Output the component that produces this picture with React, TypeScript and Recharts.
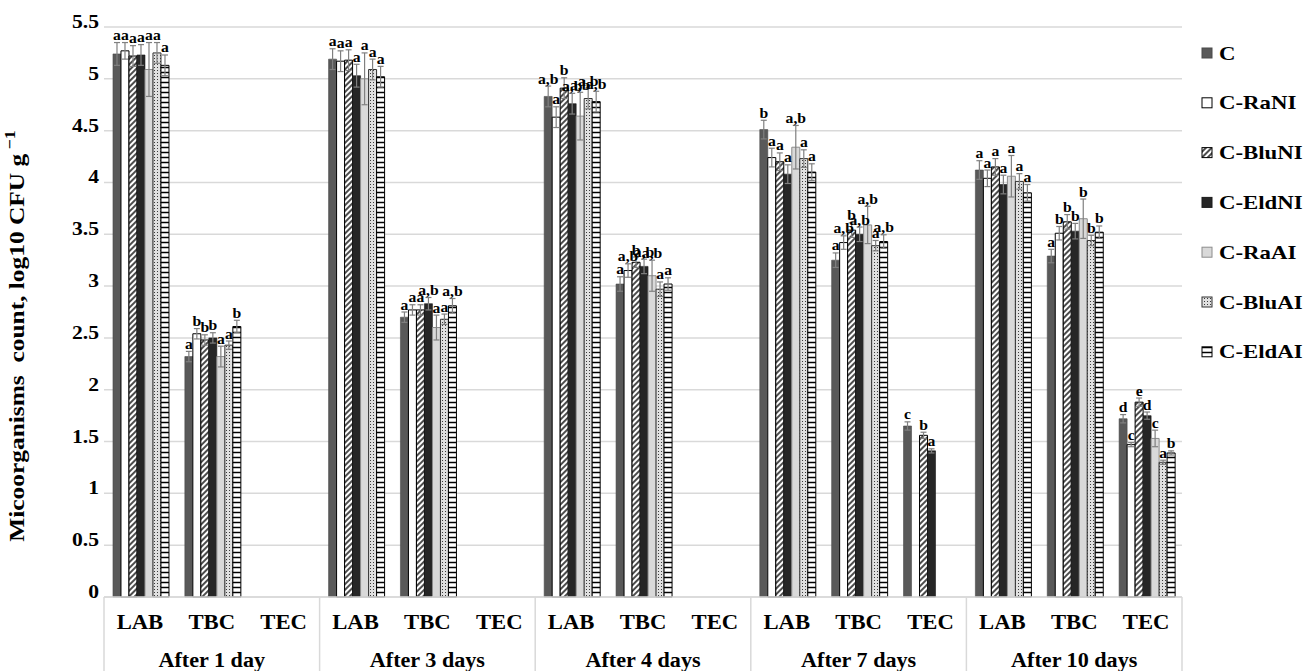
import React from 'react';
import { BarChart, Bar, XAxis, YAxis, CartesianGrid, ErrorBar, LabelList } from 'recharts';

const groupLabels = ['After 1 day', 'After 3 days', 'After 4 days', 'After 7 days', 'After 10 days'];
const subLabels = ['LAB', 'TBC', 'TEC'];
const yTicks = [0, 0.5, 1, 1.5, 2, 2.5, 3, 3.5, 4, 4.5, 5, 5.5];
const seriesNames = ['C', 'C-RaNI', 'C-BluNI', 'C-EldNI', 'C-RaAI', 'C-BluAI', 'C-EldAI'];

// order of the 15 categories: [1d LAB, 1d TBC, 1d TEC, 3d LAB, 3d TBC, 3d TEC, ...]
const valC = [5.24, 2.32, null, 5.19, 2.70, null, 4.83, 3.02, null, 4.51, 3.25, 1.65, 4.12, 3.29, 1.72];
const valRaNI = [5.27, 2.54, null, 5.17, 2.77, null, 4.63, 3.15, null, 4.24, 3.42, null, 4.04, 3.51, 1.47];
const valBluNI = [5.22, 2.48, null, 5.18, 2.77, null, 4.91, 3.23, null, 4.20, 3.54, 1.56, 4.15, 3.62, 1.88];
const valEldNI = [5.23, 2.50, null, 5.03, 2.83, null, 4.76, 3.19, null, 4.08, 3.50, 1.41, 3.98, 3.53, 1.75];
const valRaAI = [5.09, 2.32, null, 5.00, 2.60, null, 4.64, 3.10, null, 4.34, 3.59, null, 4.06, 3.65, 1.53];
const valBluAI = [5.25, 2.43, null, 5.09, 2.68, null, 4.81, 2.97, null, 4.23, 3.39, null, 4.01, 3.44, 1.30];
const valEldAI = [5.13, 2.61, null, 5.02, 2.81, null, 4.78, 3.02, null, 4.10, 3.43, null, 3.90, 3.52, 1.39];

const errC = [0.11, 0.05, null, 0.10, 0.05, null, 0.10, 0.07, null, 0.09, 0.07, 0.04, 0.09, 0.065, 0.04];
const errRaNI = [0.08, 0.05, null, 0.10, 0.05, null, 0.10, 0.065, null, 0.09, 0.065, null, 0.08, 0.065, 0.02];
const errBluNI = [0.10, 0.05, null, 0.10, 0.05, null, 0.10, 0.05, null, 0.085, 0.07, 0.03, 0.08, 0.07, 0.04];
const errEldNI = [0.10, 0.05, null, 0.11, 0.06, null, 0.10, 0.07, null, 0.09, 0.07, 0.02, 0.09, 0.075, 0.035];
const errRaAI = [0.26, 0.10, null, 0.25, 0.12, null, 0.23, 0.15, null, 0.21, 0.18, null, 0.20, 0.19, 0.08];
const errBluAI = [0.10, 0.04, null, 0.10, 0.05, null, 0.10, 0.07, null, 0.085, 0.05, null, 0.075, 0.05, 0.02];
const errEldAI = [0.10, 0.06, null, 0.10, 0.07, null, 0.10, 0.06, null, 0.08, 0.065, null, 0.08, 0.06, 0.02];

const letC = ['a', 'a', '', 'a', 'a', '', 'a,b', 'a', '', 'b', 'a', 'c', 'a', 'a', 'd'];
const letRaNI = ['a', 'b', '', 'a', 'a', '', 'a', 'a,b', '', 'a', 'a,b', '', 'a', 'b', 'c'];
const letBluNI = ['a', 'b', '', 'a', 'a', '', 'b', 'b', '', 'a', 'b', 'b', 'a', 'b', 'e'];
const letEldNI = ['a', 'b', '', 'a', 'a,b', '', 'a,b', 'a,b', '', 'a', 'a,b', 'a', 'a', 'b', 'd'];
const letRaAI = ['a', 'a', '', 'a', 'a', '', 'a,b', 'a,b', '', 'a,b', 'a,b', '', 'a', 'b', 'c'];
const letBluAI = ['a', 'a', '', 'a', 'a', '', 'a,b', 'a', '', 'a', 'a', '', 'a', 'b', 'a'];
const letEldAI = ['a', 'b', '', 'a', 'a,b', '', 'a,b', 'a', '', 'a', 'a,b', '', 'a', 'b', 'b'];

const allVals = [valC, valRaNI, valBluNI, valEldNI, valRaAI, valBluAI, valEldAI];
const allErrs = [errC, errRaNI, errBluNI, errEldNI, errRaAI, errBluAI, errEldAI];
const allLets = [letC, letRaNI, letBluNI, letEldNI, letRaAI, letBluAI, letEldAI];

const rows = valC.map((_, i) => {
  const r: any = { idx: i, sub: subLabels[i % 3], group: groupLabels[Math.floor(i / 3)] };
  allVals.forEach((arr, k) => {
    r['v' + k] = arr[i];
    r['e' + k] = allErrs[k][i];
    r['l' + k] = allLets[k][i];
  });
  return r;
});

// styling (kept apart from data)
const W = 1304;
const H = 671;
const M_TOP = 27;
const M_RIGHT = 122;
const Y_W = 104;
const X_H = 74;
const PLOT_W = W - M_RIGHT - Y_W;
const FONT = '"Liberation Serif", "Times New Roman", serif';

const styles = [
  { fill: '#595959', stroke: '#4a4a4a', sw: 0.6 },
  { fill: '#ffffff', stroke: '#000000', sw: 1 },
  { fill: 'url(#PID-blu)', stroke: '#000000', sw: 1 },
  { fill: '#262626', stroke: '#1a1a1a', sw: 0.6 },
  { fill: '#d9d9d9', stroke: '#8c8c8c', sw: 1 },
  { fill: 'url(#PID-dot)', stroke: '#333333', sw: 1 },
  { fill: 'url(#PID-hor)', stroke: '#000000', sw: 1 },
];

const Patterns = ({ prefix }: { prefix: string }) => (
  <defs>
    <pattern id={prefix + '-blu'} width="4" height="4" patternUnits="userSpaceOnUse" patternTransform="rotate(45)">
      <rect width="4" height="4" fill="#ffffff" />
      <line x1="1" y1="0" x2="1" y2="4" stroke="#000000" strokeWidth="1.4" />
    </pattern>
    <pattern id={prefix + '-dot'} width="3" height="3" patternUnits="userSpaceOnUse">
      <rect width="3" height="3" fill="#e0e0e0" />
      <rect x="1" y="1" width="1" height="1" fill="#3a3a3a" />
    </pattern>
    <pattern id={prefix + '-hor'} width="5" height="5" patternUnits="userSpaceOnUse">
      <rect width="5" height="5" fill="#ffffff" />
      <line x1="0" y1="2.5" x2="5" y2="2.5" stroke="#000000" strokeWidth="1.5" />
    </pattern>
  </defs>
);

const fillFor = (k: number, prefix: string) => styles[k].fill.replace('PID', prefix);

const makeLetter = (k: number) => (props: any) => {
  const { x, y, width, height, value } = props;
  const row = rows[Number(value)];
  if (!row) return null;
  const v = row['v' + k];
  const e = row['e' + k] || 0;
  const t = row['l' + k];
  if (v == null || !t || !height) return null;
  const ppu = Math.abs(height) / v;
  const cx = x + width / 2;
  const ty = Math.min(y, y + height) - e * ppu - 2.5;
  return (
    <text
      transform={`translate(${cx},${ty}) scale(1.08,1)`}
      textAnchor="middle"
      fontFamily={FONT}
      fontWeight="bold"
      fontSize={14.5}
      fill="#000"
    >
      {t}
    </text>
  );
};

const XTick = (props: any) => {
  const { x, y, index } = props;
  const band = PLOT_W / rows.length;
  const row = rows[index];
  if (!row) return null;
  const lineBottom = H;
  return (
    <g>
      <text
        transform={`translate(${x},${y + 32}) scale(1.08,1)`}
        textAnchor="middle"
        fontFamily={FONT}
        fontWeight="bold"
        fontSize={21}
        fill="#000"
      >
        {row.sub}
      </text>
      {index % 3 === 1 && (
        <text
          transform={`translate(${x},${y + 70}) scale(1.08,1)`}
          textAnchor="middle"
          fontFamily={FONT}
          fontWeight="bold"
          fontSize={20.5}
          fill="#000"
        >
          {row.group}
        </text>
      )}
      {index % 3 === 0 && (
        <line x1={x - band / 2} x2={x - band / 2} y1={y} y2={lineBottom} stroke="#d9d9d9" strokeWidth={1.5} />
      )}
      {index === rows.length - 1 && (
        <line x1={x + band / 2} x2={x + band / 2} y1={y} y2={lineBottom} stroke="#d9d9d9" strokeWidth={1.5} />
      )}
    </g>
  );
};

const YTick = (props: any) => {
  const { y, payload } = props;
  return (
    <text
      transform={`translate(${Y_W - 5},${y + 1}) scale(1.2,1)`}
      textAnchor="end"
      fontFamily={FONT}
      fontWeight="bold"
      fontSize={18}
      fill="#000"
    >
      {String(payload.value)}
    </text>
  );
};

const YTitle = () => (
  <text
    transform={`translate(24,336) scale(1.1,1.27) rotate(-90)`}
    textAnchor="middle"
    fontFamily={FONT}
    fontWeight="bold"
    fontSize={20}
    fill="#000"
    xmlSpace="preserve"
    style={{ whiteSpace: 'pre' }}
  >
    {'Micoorganisms  count, log10 CFU g'}
    <tspan dy={-8} fontSize={14}>{' −1'}</tspan>
  </text>
);

const Legend = () => (
  <svg width={110} height={400} style={{ position: 'absolute', left: 1194, top: 0 }}>
    <Patterns prefix="lg" />
    {seriesNames.map((n, k) => {
      const cy = 53 + k * 49.8;
      return (
        <g key={n}>
          <rect x={8} y={cy - 5} width={10} height={10} fill={fillFor(k, 'lg')} stroke={styles[k].stroke} strokeWidth={1} />
          <text
            transform={`translate(25,${cy + 6.5}) scale(1.17,1)`}
            fontFamily={FONT}
            fontWeight="bold"
            fontSize={19.5}
            fill="#000"
          >
            {n}
          </text>
        </g>
      );
    })}
  </svg>
);

export default function App() {
  return (
    <div style={{ position: 'absolute', left: 0, top: 0, width: W, height: H, background: '#fff' }}>
      <BarChart
        width={W}
        height={H}
        data={rows}
        margin={{ top: M_TOP, right: M_RIGHT, bottom: 0, left: 0 }}
        barCategoryGap="12.5%"
        barGap={0}
      >
        <Patterns prefix="ch" />
        <CartesianGrid vertical={false} stroke="#d9d9d9" strokeWidth={1.5} />
        <XAxis
          dataKey="sub"
          interval={0}
          height={X_H}
          tickLine={false}
          tickSize={0}
          tickMargin={0}
          axisLine={{ stroke: '#d9d9d9', strokeWidth: 1.5 }}
          tick={<XTick />}
        />
        <YAxis
          width={Y_W}
          domain={[0, 5.5]}
          ticks={yTicks}
          type="number"
          axisLine={false}
          tickLine={false}
          tick={<YTick />}
        />
        {seriesNames.map((n, k) => (
          <Bar
            key={n}
            name={n}
            dataKey={'v' + k}
            fill={fillFor(k, 'ch')}
            stroke={styles[k].stroke}
            strokeWidth={styles[k].sw}
            isAnimationActive={false}
          >
            <ErrorBar dataKey={'e' + k} width={3} stroke="#808080" strokeWidth={1.2} direction="y" />
            <LabelList dataKey="idx" content={makeLetter(k)} />
          </Bar>
        ))}
        <YTitle />
      </BarChart>
      <Legend />
    </div>
  );
}
